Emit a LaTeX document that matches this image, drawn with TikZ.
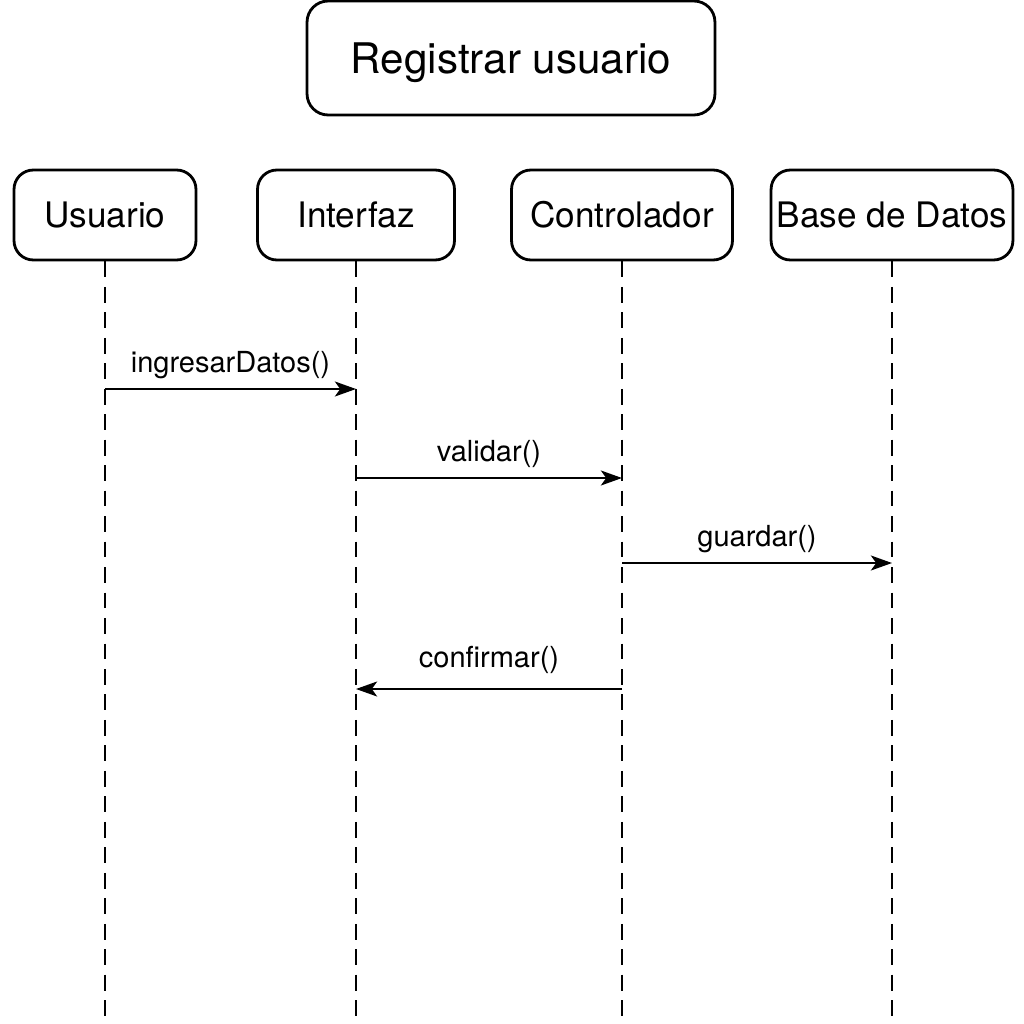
\documentclass[tikz,border=0pt]{standalone}
\usepackage{fontspec}
\setmainfont{TeX Gyre Heros}
\usetikzlibrary{arrows.meta}
\begin{document}
\begin{tikzpicture}[x=0.02cm,y=-0.02cm,
    actor/.style={draw, line width=1.6pt, rounded corners=11pt, minimum height=1.8cm, font=\fontsize{20}{24}\selectfont},
    lifeline/.style={line width=1.6pt, dash pattern=on 9pt off 5.5pt},
    msg/.style={line width=1.3pt, -{Stealth[length=12pt,width=8.5pt,inset=3pt]}},
    msglabel/.style={above, inner sep=5pt, font=\fontsize{16.5}{20}\selectfont}]
  \useasboundingbox (0,0) rectangle (1024,1024);

  \node[draw, line width=1.6pt, rounded corners=12pt, minimum width=8.16cm, minimum height=2.28cm, text depth=0pt, font=\fontsize{24}{29}\selectfont] (titulo) at (511,58) {Registrar usuario};

  \node[actor, minimum width=3.64cm] (usuario) at (105,215) {Usuario};
  \node[actor, minimum width=3.94cm] (interfaz) at (356,215) {Interfaz};
  \node[actor, minimum width=4.42cm] (controlador) at (622,215) {Controlador};
  \node[actor, minimum width=4.74cm] (basedatos) at (892,215) {Base de Datos};

  % lineas de vida
  \draw[lifeline] (usuario.south) -- (usuario.south |- 0,1024);
  \draw[lifeline] (interfaz.south) -- (interfaz.south |- 0,1024);
  \draw[lifeline] (controlador.south) -- (controlador.south |- 0,1024);
  \draw[lifeline] (basedatos.south) -- (basedatos.south |- 0,1024);

  % mensajes
  \draw[msg] (usuario.south |- 0,389) -- node[msglabel] {ingresarDatos()} (interfaz.south |- 0,389);
  \draw[msg] (interfaz.south |- 0,478) -- node[msglabel] {validar()} (controlador.south |- 0,478);
  \draw[msg] (controlador.south |- 0,563) -- node[msglabel] {guardar()} (basedatos.south |- 0,563);
  \draw[msg] (controlador.south |- 0,689) -- node[msglabel, inner sep=8pt] {confirmar()} (interfaz.south |- 0,689);

\end{tikzpicture}
\end{document}
